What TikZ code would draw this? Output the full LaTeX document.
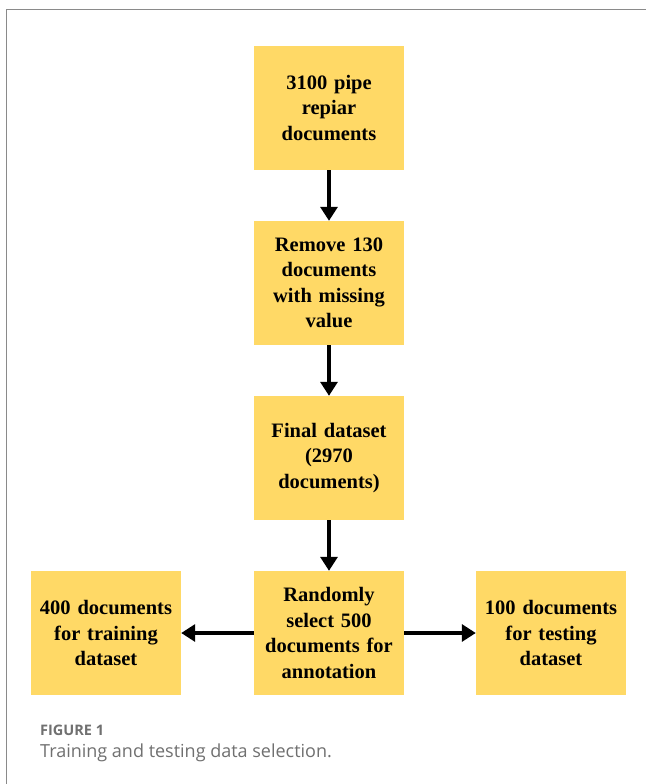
\documentclass[tikz,border=0pt]{standalone}
\usepackage{fontspec}
\setmainfont{Liberation Serif}
\newfontfamily\capfont{Open Sans}
\usetikzlibrary{arrows.meta}
\definecolor{boxyellow}{HTML}{FFD966}
\definecolor{framegray}{HTML}{8A8A8A}
\definecolor{capgray}{HTML}{707070}
\begin{document}
\begin{tikzpicture}[x=1pt,y=-1pt,
  stepbox/.style={fill=boxyellow, draw=none, minimum width=150pt, minimum height=124pt,
    align=center, font=\fontsize{20.5}{25.5}\selectfont\bfseries, inner sep=1pt, text width=148pt},
  flow/.style={line width=3.2pt, -{Triangle[length=14pt,width=17pt]}}]
\useasboundingbox (0,0) rectangle (646,784);
\fill[white] (0,0) rectangle (646,784);
\draw[framegray, line width=1.2pt] (6.5,784) -- (6.5,9.5) -- (646,9.5);
\node[stepbox] (a) at (329,108) {3100 pipe\\repiar\\documents};
\node[stepbox] (b) at (329,283) {Remove 130\\documents\\with missing\\value};
\node[stepbox] (c) at (329,458) {Final dataset\\(2970\\documents)};
\node[stepbox] (d) at (329,633) {Randomly\\select 500\\documents for\\annotation};
\node[stepbox] (l) at (106,633) {400 documents\\for training\\dataset};
\node[stepbox] (r) at (551,633) {100 documents\\for testing\\dataset};
\draw[flow] (a) -- (b);
\draw[flow] (b) -- (c);
\draw[flow] (c) -- (d);
\draw[flow] (d) -- (l);
\draw[flow] (d) -- (r);
\node[anchor=west, inner sep=0pt, text=capgray, font=\capfont\fontsize{14.5}{16}\selectfont\bfseries] (fig) at (40,730) {FIGURE 1};
\node[anchor=west, inner sep=0pt, text=capgray, font=\capfont\fontsize{18}{22}\selectfont] (cap) at (40,753) {Training and testing data selection.};
\end{tikzpicture}
\end{document}
